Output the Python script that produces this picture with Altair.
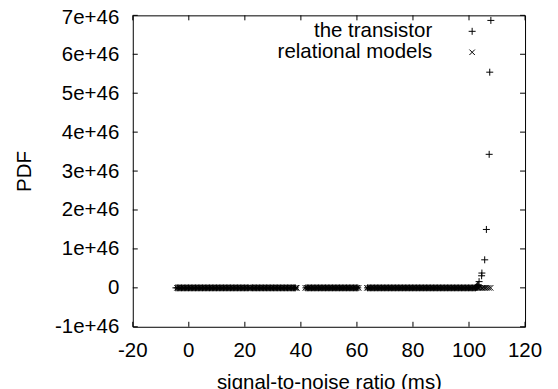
import altair as alt
import pandas as pd

# ---- data ----
x_ticks = [-20, 0, 20, 40, 60, 80, 100, 120]
x_tick_labels = ["-20", "0", "20", "40", "60", "80", "100", "120"]
y_ticks = [-1e46, 0, 1e46, 2e46, 3e46, 4e46, 5e46, 6e46, 7e46]

series_names = ["the transistor", "relational models"]

transistor_flat_x = [
    -4.6, -4.1, -3.6, -3.1, -2.6, -2.1, -1.6, -1.1, -0.6, -0.1,
    0.4, 0.9, 1.4, 1.9, 2.4, 2.9, 3.4, 3.9, 4.4, 4.9,
    5.4, 5.9, 6.4, 6.9, 7.4, 7.9, 8.4, 8.9, 9.4, 9.9,
    10.4, 10.9, 11.4, 11.9, 12.4, 12.9, 13.4, 13.9, 14.4, 14.9,
    15.4, 15.9, 16.4, 16.9, 17.4, 17.9, 18.4, 18.9, 19.4, 19.9,
    20.4, 20.9, 21.4, 22.2, 22.7, 23.2, 23.7, 24.2, 24.7, 25.2,
    25.7, 26.2, 26.7, 27.2, 27.7, 28.2, 28.7, 29.2, 29.7, 30.2,
    30.7, 31.2, 31.7, 32.2, 32.7, 33.2, 33.7, 34.2, 34.7, 35.2,
    35.7, 36.2, 36.7, 37.2, 37.6, 38.0,
    41.8, 42.3, 42.8, 43.3, 43.8, 44.3, 44.8, 45.3, 45.8, 46.3,
    46.8, 47.3, 47.8, 48.3, 48.8, 49.3, 49.8, 50.3, 50.8, 51.3,
    51.8, 52.3, 52.8, 53.3, 53.8, 54.3, 54.8, 55.3, 55.8, 56.3,
    56.8, 57.3, 57.8, 58.3, 58.8, 59.3, 59.8, 60.3,
    63.8, 64.3, 64.8, 65.3, 65.8, 66.3, 66.8, 67.3, 67.8, 68.3,
    68.8, 69.3, 69.8, 70.3, 70.8, 71.3, 71.8, 72.3, 72.8, 73.3,
    73.8, 74.3, 74.8, 75.3, 75.8, 76.3, 76.8, 77.3, 77.8, 78.3,
    78.8, 79.3, 79.8, 80.3, 80.8, 81.3, 81.8, 82.3, 82.8, 83.3,
    83.8, 84.3, 84.8, 85.3, 85.8, 86.3, 86.8, 87.3, 87.8, 88.3,
    88.8, 89.3, 89.8, 90.3, 90.8, 91.3, 91.8, 92.3, 92.8, 93.3,
    93.8, 94.3, 94.8, 95.3, 95.8, 96.3, 96.8, 97.3, 97.8, 98.3,
    98.8, 99.3, 99.8, 100.3, 100.8, 101.3, 101.8, 102.3,
]
transistor_peak_x = [102.6, 102.8, 103.1, 103.3, 103.6, 104.5, 104.6, 105.6, 106.2,
                     107.2, 107.4, 107.8]
transistor_peak_y = [0.02e46, 0.04e46, 0.06e46, 0.08e46, 0.16e46, 0.31e46, 0.38e46,
                     0.72e46, 1.5e46, 3.43e46, 5.54e46, 6.87e46]

relational_x = [
    -4.2, -3.7, -3.2, -2.7, -2.2, -1.7, -1.2, -0.7, -0.2, 0.3,
    0.8, 1.3, 1.8, 2.3, 2.8, 3.3, 3.8, 4.3, 4.8, 5.3,
    5.8, 6.3, 6.8, 7.3, 7.8, 8.3, 8.8, 9.3, 9.8, 10.3,
    10.8, 11.3, 11.8, 12.3, 12.8, 13.3, 13.8, 14.3, 14.8, 15.3,
    15.8, 16.3, 16.8, 17.3, 17.8, 18.3, 18.8, 19.3, 19.8, 20.3,
    20.8, 21.3, 21.8, 22.3, 22.8, 23.3, 23.8, 24.3, 24.8, 25.3,
    25.8, 26.3, 26.8, 27.3, 27.8, 28.3, 28.8, 29.3, 29.8, 30.3,
    30.8, 31.3, 31.8, 32.3, 32.8, 33.3, 33.8, 34.3, 34.8, 35.3,
    35.8, 36.3, 36.8, 37.3, 37.8, 38.3, 38.5,
    41.6, 42.1, 42.6, 43.1, 43.6, 44.1, 44.6, 45.1, 45.6, 46.1,
    46.6, 47.1, 47.6, 48.1, 48.6, 49.1, 49.6, 50.1, 50.6, 51.1,
    51.6, 52.1, 52.6, 53.1, 53.6, 54.1, 54.6, 55.1, 55.6, 56.1,
    56.6, 57.1, 57.6, 58.1, 58.6, 59.1, 59.6, 60.1, 60.6,
    63.6, 64.1, 64.6, 65.1, 65.6, 66.1, 66.6, 67.1, 67.6, 68.1,
    68.6, 69.1, 69.6, 70.1, 70.6, 71.1, 71.6, 72.1, 72.6, 73.1,
    73.6, 74.1, 74.6, 75.1, 75.6, 76.1, 76.6, 77.1, 77.6, 78.1,
    78.6, 79.1, 79.6, 80.1, 80.6, 81.1, 81.6, 82.1, 82.6, 83.1,
    83.6, 84.1, 84.6, 85.1, 85.6, 86.1, 86.6, 87.1, 87.6, 88.1,
    88.6, 89.1, 89.6, 90.1, 90.6, 91.1, 91.6, 92.1, 92.6, 93.1,
    93.6, 94.1, 94.6, 95.1, 95.6, 96.1, 96.6, 97.1, 97.6, 98.1,
    98.6, 99.1, 99.6, 100.1, 100.6, 101.1, 101.6, 102.1, 102.6, 103.1,
    103.6, 104.1, 104.6, 105.1, 105.7, 106.3, 107.0, 107.7,
]

transistor_df = pd.DataFrame({
    "x": transistor_flat_x + transistor_peak_x,
    "y": [0.0 for _ in transistor_flat_x] + transistor_peak_y,
})
relational_df = pd.DataFrame({"x": relational_x, "y": [0.0 for _ in relational_x]})
xt_df = pd.DataFrame({"x": x_ticks, "lab": x_tick_labels})
yt_df = pd.DataFrame({"y": y_ticks})

W, H = 393, 312
FONT = "Liberation Sans"
FS = 20.5
TICK = 5

PLUS = "M-1,0L1,0M0,-1L0,1"
CROSS = "M-1,-1L1,1M-1,1L1,-1"

xscale = alt.Scale(domain=[-20, 120], nice=False, zero=False)
yscale = alt.Scale(domain=[-1e46, 7e46], nice=False, zero=False)

x_axis = alt.Axis(
    values=x_ticks, title="signal-to-noise ratio (ms)", grid=False, ticks=False,
    tickSize=0, domain=False, labels=False, titlePadding=45.5,
)
y_axis = alt.Axis(
    values=y_ticks, title="PDF", grid=False, ticks=False, tickSize=0, domain=False,
    labelPadding=14, titlePadding=20, labelOverlap=False, labelFlush=False,
    labelOffset={"condition": {"test": "datum.value > 6.5e46", "value": 2}, "value": 0},
    labelExpr="datum.value == 0 ? '0' : round(datum.value / 1e46) + 'e+46'",
)

X = alt.X("x:Q", scale=xscale, axis=x_axis)
Y = alt.Y("y:Q", scale=yscale, axis=y_axis)

transistor = alt.Chart(transistor_df).mark_point(
    shape=PLUS, filled=False, stroke="black", strokeWidth=1, size=49, opacity=1
).encode(x=X, y=Y)

relational = alt.Chart(relational_df).mark_point(
    shape=CROSS, filled=False, stroke="black", strokeWidth=1, size=30, opacity=1
).encode(x=X, y=Y)

# x tick labels, placed through the x scale (drawn last so nothing covers them)
x_labels = alt.Chart(xt_df).mark_text(
    align="center", baseline="alphabetic", font=FONT, fontSize=FS, color="black",
    clip=False,
).encode(x=X, y=alt.value(H + 30), text="lab:N")

tick_style = dict(color="black", strokeWidth=1)
bottom_ticks = alt.Chart(xt_df).mark_rule(**tick_style).encode(
    x=X, y=alt.value(H), y2=alt.value(H - TICK))
top_ticks = alt.Chart(xt_df).mark_rule(**tick_style).encode(
    x=X, y=alt.value(0), y2=alt.value(TICK))
left_ticks = alt.Chart(yt_df).mark_rule(**tick_style).encode(
    y=Y, x=alt.value(0), x2=alt.value(TICK))
right_ticks = alt.Chart(yt_df).mark_rule(**tick_style).encode(
    y=Y, x=alt.value(W), x2=alt.value(W - TICK))

leg1_text = alt.Chart(pd.DataFrame({"t": [series_names[0]]})).mark_text(
    align="right", baseline="middle", font=FONT, fontSize=FS, color="black"
).encode(x=alt.value(300), y=alt.value(16), text="t:N")
leg2_text = alt.Chart(pd.DataFrame({"t": [series_names[1]]})).mark_text(
    align="right", baseline="middle", font=FONT, fontSize=FS, color="black"
).encode(x=alt.value(300), y=alt.value(37), text="t:N")
leg1_sym = alt.Chart(pd.DataFrame({"t": [series_names[0]]})).mark_point(
    shape=PLUS, filled=False, stroke="black", strokeWidth=1, size=49, opacity=1
).encode(x=alt.value(340), y=alt.value(16))
leg2_sym = alt.Chart(pd.DataFrame({"t": [series_names[1]]})).mark_point(
    shape=CROSS, filled=False, stroke="black", strokeWidth=1, size=30, opacity=1
).encode(x=alt.value(340), y=alt.value(37))

chart = alt.layer(
    relational, transistor,
    bottom_ticks, top_ticks, left_ticks, right_ticks,
    leg1_text, leg2_text, leg1_sym, leg2_sym,
    x_labels,
).properties(
    width=W, height=H,
    autosize=alt.AutoSizeParams(type="none"),
    padding={"left": 125, "top": 7, "right": 25, "bottom": 75},
).configure(
    font=FONT,
).configure_view(
    stroke="black", strokeWidth=1,
).configure_axis(
    labelFont=FONT, labelFontSize=FS, labelColor="black",
    titleFont=FONT, titleFontSize=FS, titleColor="black", titleFontWeight="normal",
)

chart.save("out.html", embed_options={"renderer": "svg", "actions": False})
